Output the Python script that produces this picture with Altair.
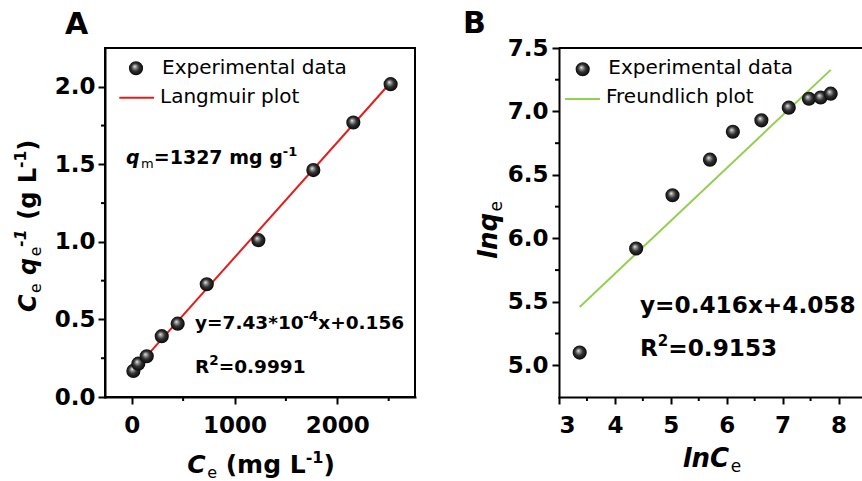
import altair as alt
import pandas as pd

FONT = "DejaVu Sans"

# ---- Panel A: Langmuir linearisation (Ce/qe vs Ce) ----
CE_A = [16, 64, 146, 292, 447, 730, 1232, 1767, 2156, 2519]
CEQE_A = [0.168, 0.215, 0.263, 0.392, 0.473, 0.727, 1.011, 1.463, 1.770, 2.017]
SLOPE_A = 7.43e-4
INTERCEPT_A = 0.156

# ---- Panel B: Freundlich linearisation (ln qe vs ln Ce) ----
LNCE_B = [3.37, 4.38, 5.03, 5.70, 6.11, 6.62, 7.11, 7.47, 7.68, 7.86]
LNQE_B = [5.10, 5.92, 6.34, 6.62, 6.84, 6.93, 7.03, 7.10, 7.11, 7.14]
SLOPE_B = 0.416
INTERCEPT_B = 4.058

# axis ticks
A_X_TICKS = [0, 1000, 2000]
A_X_MINOR = [500, 1500, 2500]
A_Y_TICKS = [0.0, 0.5, 1.0, 1.5, 2.0]
A_Y_MINOR = [0.25, 0.75, 1.25, 1.75]
B_X_TICKS = [3, 4, 5, 6, 7, 8]
B_X_MINOR = [3.5, 4.5, 5.5, 6.5, 7.5]
B_Y_TICKS = [5.0, 5.5, 6.0, 6.5, 7.0, 7.5]
B_Y_MINOR = [5.25, 5.75, 6.25, 6.75, 7.25]

WA, HA = 310, 349
WB, HB = 303, 349

ONE = pd.DataFrame({"k": [0]})

# glossy black sphere used for the experimental points
SPHERE = alt.RadialGradient(
    gradient="radial",
    stops=[
        alt.GradientStop(color="#ffffff", offset=0),
        alt.GradientStop(color="#a8a8a8", offset=0.15),
        alt.GradientStop(color="#333333", offset=0.5),
        alt.GradientStop(color="#000000", offset=1),
    ],
    x1=0.4, y1=0.36, r1=0, x2=0.5, y2=0.5, r2=0.55,
)
POINT_SIZE = 200

# advance widths (em) of DejaVu Sans Bold / Book, for laying out rich text runs
W_BOLD = {"C": .734, "e": .678, "q": .716, " ": .348, "(": .457, "g": .716, "L": .637,
          ")": .457, "-": .415, "m": 1.042, "n": .712, "l": .343, "y": .652, "=": .838,
          ".": .380, "x": .663, "+": .838, "R": .770, "*": .500}
W_BOOK = {"e": .615, "m": .974, "-": .361, " ": .318}
for d in "0123456789":
    W_BOLD[d] = .696
    W_BOOK[d] = .636


def run_width(text, size, bold):
    table = W_BOLD if bold else W_BOOK
    return sum(table.get(c, 0.65) for c in text) * size


def rich(pieces, x, y, angle=0):
    """pieces: (text, size, bold, italic, baseline shift)"""
    layers = []
    adv = 0.0
    for text, size, bold, italic, shift in pieces:
        lead = len(text) - len(text.lstrip(" "))
        body = text.strip(" ")
        start = adv + run_width(" " * lead, size, bold)
        if body:
            kw = dict(text=body, font=FONT, fontSize=size,
                      fontWeight="bold" if bold else "normal",
                      fontStyle="italic" if italic else "normal",
                      align="left", baseline="alphabetic", color="black",
                      dx=start, dy=shift)
            if angle:
                kw["angle"] = angle
            layers.append(alt.Chart(ONE).mark_text(**kw).encode(x=alt.value(x), y=alt.value(y)))
        adv += run_width(text, size, bold) + (1.5 if italic else 0)
    return layers


def label(text, x, y, size, bold=False):
    return alt.Chart(ONE).mark_text(
        text=text, font=FONT, fontSize=size, fontWeight="bold" if bold else "normal",
        align="left", baseline="alphabetic", color="black"
    ).encode(x=alt.value(x), y=alt.value(y))


def legend_ball(x, y):
    return alt.Chart(ONE).mark_circle(size=POINT_SIZE, fill=SPHERE, opacity=1).encode(
        x=alt.value(x), y=alt.value(y))


def legend_line(x1, x2, y, color):
    return alt.Chart(ONE).mark_rule(color=color, strokeWidth=2).encode(
        x=alt.value(x1), x2=alt.value(x2), y=alt.value(y))


def minor_x(values, scale, axis, h):
    df = pd.DataFrame({"v": values})
    return alt.Chart(df).mark_rule(color="black", strokeWidth=2).encode(
        x=alt.X("v:Q", scale=scale, axis=axis), y=alt.value(h), y2=alt.value(h + 4))


def minor_y(values, scale, axis):
    df = pd.DataFrame({"v": values})
    return alt.Chart(df).mark_rule(color="black", strokeWidth=2).encode(
        y=alt.Y("v:Q", scale=scale, axis=axis), x=alt.value(-4), x2=alt.value(0))


# ---------------- Panel A ----------------
xa = alt.Scale(domain=[-260, 2756], nice=False, zero=False)
ya = alt.Scale(domain=[0, 2.25], nice=False, zero=False)
ax_xa = alt.Axis(values=A_X_TICKS, format="d", labelPadding=10, title=None)
ax_ya = alt.Axis(values=A_Y_TICKS, format=".1f", labelPadding=3, title=None)

df_a = pd.DataFrame({"ce": CE_A, "r": CEQE_A})
fit_a = pd.DataFrame({"ce": [min(CE_A), max(CE_A)]})

pts_a = alt.Chart(df_a).mark_circle(size=POINT_SIZE, fill=SPHERE, opacity=1).encode(
    x=alt.X("ce:Q", scale=xa, axis=ax_xa),
    y=alt.Y("r:Q", scale=ya, axis=ax_ya),
)
line_a = alt.Chart(fit_a).transform_calculate(
    r=f"{SLOPE_A} * datum.ce + {INTERCEPT_A}"
).mark_line(color="#e31c1c", strokeWidth=2).encode(
    x=alt.X("ce:Q", scale=xa, axis=ax_xa), y=alt.Y("r:Q", scale=ya, axis=ax_ya))

layers_a = [line_a, pts_a, minor_x(A_X_MINOR, xa, ax_xa, HA), minor_y(A_Y_MINOR, ya, ax_ya)]
layers_a += [
    legend_ball(31, 20.3), label("Experimental data", 57, 26, 20),
    legend_line(14.3, 49, 49.7, "#e31c1c"), label("Langmuir plot", 55, 54.7, 20),
    label("A", -40, -14.5, 30, bold=True),
]
layers_a += rich([("q", 19, True, True, 0), ("m", 13, False, False, 4),
                  ("=1327 mg g", 19, True, False, 0), ("-1", 13, True, False, -8)], 21, 116.3)
layers_a += rich([("y=7.43*10", 18.5, True, False, 0), ("-4", 13.5, True, False, -8),
                  ("x+0.156", 18.5, True, False, 0)], 90, 281.3)
layers_a += rich([("R", 18.5, True, False, 0), ("2", 13.5, True, False, -8),
                  ("=0.9991", 18.5, True, False, 0)], 90, 324.7)
layers_a += rich([("C", 25, True, True, 0), ("e", 16, False, False, 5),
                  (" (mg L", 25, True, False, 0), ("-1", 16, True, False, -10),
                  (")", 25, True, False, 0)], 82.3, 424.7)
layers_a += rich([("C", 24, True, True, 0), ("e", 15.5, False, False, 5), (" ", 24, True, False, 0),
                  ("q", 24, True, True, 0), ("e", 15.5, False, False, 5),
                  ("-1", 15.5, True, True, -10), (" (g L", 24, True, False, 0),
                  ("-1", 15.5, True, False, -10), (")", 24, True, False, 0)], -69, 264, angle=270)

panel_a = alt.layer(*layers_a).properties(
    width=WA, height=HA, view=alt.ViewBackground(stroke="black", strokeWidth=2))

# ---------------- Panel B ----------------
xb = alt.Scale(domain=[3, 8.42], nice=False, zero=False)
yb = alt.Scale(domain=[4.75, 7.5], nice=False, zero=False)
ax_xb = alt.Axis(values=B_X_TICKS, format="d", labelPadding=10, title=None)
ax_yb = alt.Axis(values=B_Y_TICKS, format=".1f", labelPadding=4, title=None)

df_b = pd.DataFrame({"lnce": LNCE_B, "lnqe": LNQE_B})
fit_b = pd.DataFrame({"lnce": [min(LNCE_B), max(LNCE_B)]})

pts_b = alt.Chart(df_b).mark_circle(size=POINT_SIZE, fill=SPHERE, opacity=1).encode(
    x=alt.X("lnce:Q", scale=xb, axis=ax_xb),
    y=alt.Y("lnqe:Q", scale=yb, axis=ax_yb),
)
line_b = alt.Chart(fit_b).transform_calculate(
    lnqe=f"{SLOPE_B} * datum.lnce + {INTERCEPT_B}"
).mark_line(color="#92d050", strokeWidth=2).encode(
    x=alt.X("lnce:Q", scale=xb, axis=ax_xb), y=alt.Y("lnqe:Q", scale=yb, axis=ax_yb))
top_b = alt.Chart(ONE).mark_rule(color="black", strokeWidth=2).encode(
    x=alt.value(0), x2=alt.value(WB), y=alt.value(0))

layers_b = [line_b, pts_b, top_b, minor_x(B_X_MINOR, xb, ax_xb, HB), minor_y(B_Y_MINOR, yb, ax_yb)]
layers_b += [
    legend_ball(23.7, 21.3), label("Experimental data", 49.3, 26, 20),
    legend_line(6, 41, 51, "#92d050"), label("Freundlich plot", 47, 55, 20),
    label("B", -96, -14.7, 30, bold=True),
]
layers_b += rich([("y=0.416x+4.058", 23.2, True, False, 0)], 81, 265.3)
layers_b += rich([("R", 23.2, True, False, 0), ("2", 15, True, False, -10),
                  ("=0.9153", 23.2, True, False, 0)], 81, 308)
layers_b += rich([("lnC", 26, True, True, 0), ("e", 17, False, False, 5)], 123.7, 418.7)
layers_b += rich([("lnq", 26, True, True, 0), ("e", 17, False, False, 5)], -62, 211, angle=270)

panel_b = alt.layer(*layers_b).properties(width=WB, height=HB)

chart = alt.hconcat(panel_a, panel_b, spacing=144, bounds="flush").properties(
    autosize=alt.AutoSizeParams(type="none"),
    padding={"left": 105, "top": 48, "right": 757, "bottom": 433},
    background="white",
).configure_view(stroke="transparent").configure_axis(
    labelFont=FONT, labelFontSize=23, labelFontWeight="bold", labelColor="black",
    domainColor="black", domainWidth=2, domainCap="square", tickColor="black", tickWidth=2,
    tickSize=7, grid=False,
)

chart.save("out.html", embed_options={"renderer": "svg", "actions": False})
